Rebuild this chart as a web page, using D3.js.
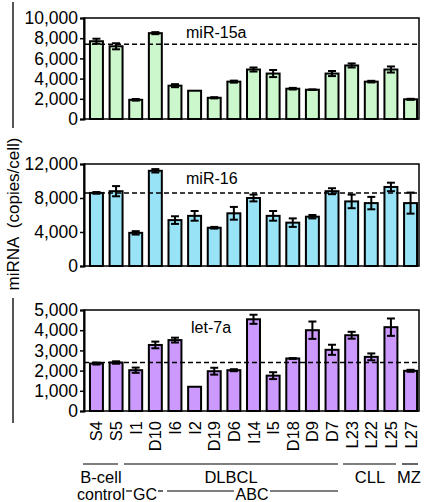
<!DOCTYPE html>
<html><head><meta charset="utf-8">
<script src="https://cdn.jsdelivr.net/npm/d3@7"></script>
<style>body{margin:0;background:#fff}svg{display:block}text{font-family:Arial,"Liberation Sans",sans-serif}</style>
</head><body>
<script>
const samples = ["S4","S5","I1","D10","I6","I2","D19","D6","I14","I5","D18","D9","D7","L23","L22","L25","L27"];
const mir15a = [7700,7200,1900,8500,3300,2800,2100,3700,4900,4500,3000,2900,4500,5300,3700,4900,1950];
const mir15aErr = [250,300,80,100,150,0,60,100,200,350,80,30,250,200,80,300,50];
const mir16 = [8600,8800,3900,11200,5400,5900,4500,6200,8000,5900,5100,5800,8800,7600,7400,9300,7400];
const mir16Err = [100,600,200,200,450,570,100,750,400,570,500,200,350,800,730,500,1240];
const let7a = [2350,2400,2020,3270,3510,1200,1970,2020,4540,1750,2600,4000,3030,3750,2680,4150,1990];
const let7aErr = [50,60,130,165,120,0,170,50,225,170,20,430,250,170,170,430,50];
const panels = [
  {name:"miR-15a", values:mir15a, err:mir15aErr, ref:7400, max:10000, ticks:[0,2000,4000,6000,8000,10000], color:"#ccf7cc", top:18, bottom:119, lx:186, ly:38},
  {name:"miR-16", values:mir16, err:mir16Err, ref:8600, max:12000, ticks:[0,4000,8000,12000], color:"#99e3f7", top:164, bottom:266, lx:186, ly:184},
  {name:"let-7a", values:let7a, err:let7aErr, ref:2400, max:5000, ticks:[0,1000,2000,3000,4000,5000], color:"#cc99ff", top:310, bottom:411, lx:191, ly:333}
];

const W = 425, H = 502;
const svg = d3.select("body").append("svg").attr("width", W).attr("height", H);
const x = d3.scaleBand().domain(samples).range([88, 419]).paddingInner(0.34).paddingOuter(0.1);
const fmt = d3.format(",");

panels.forEach(p => {
  const y = d3.scaleLinear().domain([0, p.max]).range([p.bottom, p.top]);
  const g = svg.append("g");
  g.append("rect").attr("x", 84).attr("y", p.top).attr("width", 419-84).attr("height", p.bottom-p.top)
    .attr("fill","none").attr("stroke","#000").attr("stroke-width",1.5);
  const ax = g.append("g").attr("transform","translate(84,0)")
    .call(d3.axisLeft(y).tickValues(p.ticks).tickFormat(fmt).tickSize(4).tickPadding(2));
  ax.select(".domain").attr("stroke-width",2);
  ax.selectAll(".tick line").attr("stroke-width",1.5);
  ax.selectAll("text").attr("font-size",17.5).attr("fill","#000").attr("font-family","Arial, 'Liberation Sans', sans-serif");
  g.selectAll("rect.bar").data(p.values).join("rect").attr("class","bar")
    .attr("x",(d,i)=>x(samples[i])).attr("width",x.bandwidth())
    .attr("y",d=>y(d)).attr("height",d=>p.bottom-y(d))
    .attr("fill",p.color).attr("stroke","#000").attr("stroke-width",2);
  const eb = g.selectAll("g.eb").data(p.values).join("g").attr("class","eb");
  eb.each(function(d,i){
    const e = p.err[i]; if (!e) return;
    const cx = x(samples[i]) + x.bandwidth()/2;
    const s = d3.select(this);
    s.append("line").attr("x1",cx).attr("x2",cx).attr("y1",y(d+e)).attr("y2",y(d-e)).attr("stroke","#000").attr("stroke-width",2);
    [d+e,d-e].forEach(v=>s.append("line").attr("x1",cx-4).attr("x2",cx+4).attr("y1",y(v)).attr("y2",y(v)).attr("stroke","#000").attr("stroke-width",2));
  });
  g.append("line").attr("x1",84).attr("x2",419).attr("y1",y(p.ref)).attr("y2",y(p.ref))
    .attr("stroke","#000").attr("stroke-width",1.5).attr("stroke-dasharray","5,3");
  g.append("text").attr("x",p.lx).attr("y",p.ly).attr("font-size",16).text(p.name);
});

svg.append("line").attr("x1",13).attr("x2",13).attr("y1",2).attr("y2",128).attr("stroke","#555").attr("stroke-width",2);
svg.append("line").attr("x1",13).attr("x2",13).attr("y1",298).attr("y2",423).attr("stroke","#555").attr("stroke-width",2);
svg.append("text").attr("transform","translate(19,214) rotate(-90)").attr("text-anchor","middle")
  .style("white-space","pre").attr("font-size",17).text("miRNA  (copies/cell)");

svg.append("g").selectAll("text").data(samples).join("text")
  .attr("transform",d=>`translate(${x(d)+x.bandwidth()/2+6},421) rotate(-90)`)
  .attr("text-anchor","end").attr("font-size",16.5).text(d=>d);

const groupLines = [[83,118],[124,338],[343,396],[402,418]];
svg.append("g").selectAll("line").data(groupLines).join("line")
  .attr("x1",d=>d[0]).attr("x2",d=>d[1]).attr("y1",464).attr("y2",464).attr("stroke","#000").attr("stroke-width",1.2);
const groupLabels = [["B-cell",101],["DLBCL",231],["CLL",370],["MZ",409]];
svg.append("g").selectAll("text").data(groupLabels).join("text")
  .attr("x",d=>d[1]).attr("y",483).attr("text-anchor","middle").attr("font-size",16.5).text(d=>d[0]);
svg.append("text").attr("x",101).attr("y",500).attr("text-anchor","middle").attr("font-size",16).text("control");
svg.append("text").attr("x",145).attr("y",500).attr("text-anchor","middle").attr("font-size",16).text("GC");
svg.append("text").attr("x",252).attr("y",500).attr("text-anchor","middle").attr("font-size",16).text("ABC");
const subLines = [[126,132],[158,163],[167,234],[270,338]];
svg.append("g").selectAll("line").data(subLines).join("line")
  .attr("x1",d=>d[0]).attr("x2",d=>d[1]).attr("y1",491).attr("y2",491).attr("stroke","#000").attr("stroke-width",1.2);
</script>
</body></html>
